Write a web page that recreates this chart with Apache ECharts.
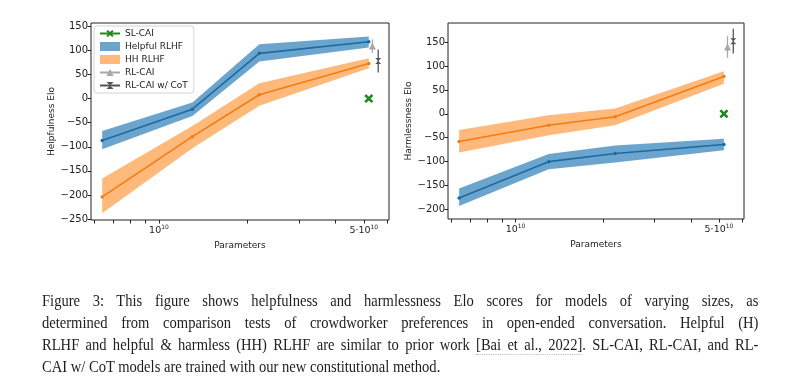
<!DOCTYPE html>
<html>
<head>
<meta charset="utf-8">
<script src="https://cdn.jsdelivr.net/npm/echarts@6/dist/echarts.min.js"></script>
<style>
html,body{margin:0;padding:0;background:#fff;width:800px;height:389px;overflow:hidden}
#chart{position:absolute;left:0;top:0;width:800px;height:389px}
#cap{position:absolute;left:42px;top:290px;width:796px;transform:scaleX(0.9);transform-origin:0 0;font-family:'Liberation Serif','DejaVu Serif',serif;font-size:16.2px;line-height:22px;color:#1e1e1e}
#cap .j{text-align:justify;text-align-last:justify}
#cap .l{text-align:left}
#cap .ref{border-bottom:1px dotted #bbb}
</style>
</head>
<body>
<div id="chart"></div>
<div id="cap">
<div class="j">Figure 3: This figure shows helpfulness and harmlessness Elo scores for models of varying sizes, as</div>
<div class="j">determined from comparison tests of crowdworker preferences in open-ended conversation. Helpful (H)</div>
<div class="j">RLHF and helpful &amp; harmless (HH) RLHF are similar to prior work <span class="ref">[Bai et al., 2022]</span>. SL-CAI, RL-CAI, and RL-</div>
<div class="l">CAI w/ CoT models are trained with our new constitutional method.</div>
</div>
<script>
// ---- data ----
const params = [6.4e9, 1.3e10, 2.2e10, 5.2e10];

// Helpfulness panel
const helpHelpfulRLHF   = [-87, -22, 94, 118];
const helpHelpfulRLHFLo = [-105, -36, 77, 106];
const helpHelpfulRLHFHi = [-67, -8, 113, 129];
const helpHHRLHF   = [-204, -79, 8, 73];
const helpHHRLHFLo = [-238, -103, -15, 63];
const helpHHRLHFHi = [-166, -57, 32, 84];

// Harmlessness panel
const harmHelpfulRLHF   = [-176, -100, -83, -64];
const harmHelpfulRLHFLo = [-193, -116, -102, -76];
const harmHelpfulRLHFHi = [-156, -84, -66, -52];
const harmHHRLHF   = [-58, -24, -6, 78];
const harmHHRLHFLo = [-81, -45, -24, 63];
const harmHHRLHFHi = [-34, -3, 11, 89];

// single-point models [helpfulness, harmlessness]
const slcaiX = 5.2e10;
const slcaiElo = [0, 0];
const rlcaiX = 5.35e10;
const rlcaiElo = [109, 140];
const rlcaiErr = [14, 23];
const cotX = 5.6e10;
const cotElo = [78, 152];
const cotErr = [24, 26];

// axis ticks
const xTickParams = [6e9, 7e9, 8e9, 9e9, 1e10, 2e10, 3e10, 4e10, 5e10, 6e10];
const xLabelParams = [1e10, 5e10];
const helpYTicks = [-250, -200, -150, -100, -50, 0, 50, 100, 150];
const harmYTicks = [-200, -150, -100, -50, 0, 50, 100, 150];

// ---- styling ----
const FONT = 'DejaVu Sans';
const blueLine = '#1b6aa3', blueBand = 'rgba(31,119,180,0.66)';
const orangeLine = '#f47c12', orangeBand = 'rgba(255,127,14,0.55)';
const green = '#1f8a1f', gray = '#a8a8a8', dark = '#555555';
const xPath = 'path://M2,0L5,3L8,0L10,2L7,5L10,8L8,10L5,7L2,10L0,8L3,5L0,2Z';
const hourPath = 'path://M0,0L10,0L5,5L10,10L0,10L5,5Z';

const lx = v => Math.log10(v);
const pts = (xs, ys) => xs.map((x, i) => [lx(x), ys[i]]);
const minus = v => String(v).replace('-', '\u2212');

function band(name, lo, hi, color, gi) {
  return {type:'custom', name:name, xAxisIndex:gi, yAxisIndex:gi,
    data: params.map((x, i) => [lx(x), lo[i], hi[i]]), encode:{x:0, y:[1, 2]},
    itemStyle:{color:color}, silent:true, z:1, animation:false,
    renderItem: function(p, api) {
      if (p.dataIndex !== 0) return null;
      const upper = params.map((x, i) => api.coord([lx(x), hi[i]]));
      const lower = params.map((x, i) => api.coord([lx(x), lo[i]])).reverse();
      return {type:'polygon', shape:{points: upper.concat(lower)}, style:{fill:color}};
    }};
}
function mainLine(name, vals, color, gi) {
  return {type:'line', name:name, xAxisIndex:gi, yAxisIndex:gi, data:pts(params, vals),
    symbol:'circle', symbolSize:3.5, lineStyle:{color:color, width:1.6}, itemStyle:{color:color}, z:3, animation:false};
}
function point(name, x, y, symbol, size, color, gi) {
  return {type:'line', name:name, xAxisIndex:gi, yAxisIndex:gi, data:[[lx(x), y]],
    symbol:symbol, symbolSize:size, itemStyle:{color:color}, lineStyle:{color:color, width:1.5}, z:6, animation:false};
}
function errBar(x, y, e, color, gi) {
  return {type:'custom', xAxisIndex:gi, yAxisIndex:gi, data:[[lx(x), y, e]], encode:{x:0, y:1}, z:5, silent:true, animation:false,
    renderItem: function(p, api) {
      const xv = api.value(0), yv = api.value(1), ev = api.value(2);
      const a = api.coord([xv, yv - ev]), b = api.coord([xv, yv + ev]);
      return {type:'line', shape:{x1:a[0], y1:a[1], x2:b[0], y2:b[1]}, style:{stroke:color, lineWidth:1.3}};
    }};
}

function xAxis(gi) {
  return {gridIndex:gi, type:'value', min:9.768, max:10.785,
    name:'Parameters', nameLocation:'middle', nameGap:18,
    nameTextStyle:{fontFamily:FONT, fontSize:9, color:'#222'},
    axisLine:{show:false, onZero:false}, splitLine:{show:false},
    axisTick:{show:true, length:3.5, customValues:xTickParams.map(lx), lineStyle:{color:'#222', width:1}},
    axisLabel:{show:true, customValues:xLabelParams.map(lx), margin:4, fontFamily:FONT, color:'#222',
      formatter: v => Math.abs(v - 10) < 1e-3 ? '{b|10}{s|10}' : '{b|5\u00b710}{s|10}',
      rich:{b:{fontFamily:FONT, fontSize:9.5, color:'#222', lineHeight:12, verticalAlign:'bottom'},
            s:{fontFamily:FONT, fontSize:6, color:'#222', lineHeight:12, verticalAlign:'top'}}}
  };
}
function yAxis(gi, name, min, max, ticks, gap) {
  return {gridIndex:gi, type:'value', min:min, max:max,
    name:name, nameLocation:'middle', nameGap:gap,
    nameTextStyle:{fontFamily:FONT, fontSize:9, color:'#222'},
    axisLine:{show:false, onZero:false}, splitLine:{show:false},
    axisTick:{show:true, length:3.5, customValues:ticks, lineStyle:{color:'#222', width:1}},
    axisLabel:{show:true, customValues:ticks, margin:3, fontFamily:FONT, fontSize:10, color:'#222', formatter:minus}
  };
}

const series = [
  band('HH RLHF', helpHHRLHFLo, helpHHRLHFHi, orangeBand, 0),
  band('Helpful RLHF', helpHelpfulRLHFLo, helpHelpfulRLHFHi, blueBand, 0),
  mainLine('HH RLHF line', helpHHRLHF, orangeLine, 0),
  mainLine('Helpful RLHF line', helpHelpfulRLHF, blueLine, 0),
  point('SL-CAI', slcaiX, slcaiElo[0], xPath, 9, green, 0),
  errBar(rlcaiX, rlcaiElo[0], rlcaiErr[0], gray, 0),
  point('RL-CAI', rlcaiX, rlcaiElo[0], 'triangle', 7, gray, 0),
  errBar(cotX, cotElo[0], cotErr[0], dark, 0),
  point('RL-CAI w/ CoT', cotX, cotElo[0], hourPath, 6, dark, 0),
  band('HH RLHF', harmHHRLHFLo, harmHHRLHFHi, orangeBand, 1),
  band('Helpful RLHF', harmHelpfulRLHFLo, harmHelpfulRLHFHi, blueBand, 1),
  mainLine('HH RLHF line', harmHHRLHF, orangeLine, 1),
  mainLine('Helpful RLHF line', harmHelpfulRLHF, blueLine, 1),
  point('SL-CAI', slcaiX, slcaiElo[1], xPath, 9, green, 1),
  errBar(rlcaiX, rlcaiElo[1], rlcaiErr[1], gray, 1),
  point('RL-CAI', rlcaiX, rlcaiElo[1], 'triangle', 7, gray, 1),
  errBar(cotX, cotElo[1], cotErr[1], dark, 1),
  point('RL-CAI w/ CoT', cotX, cotElo[1], hourPath, 6, dark, 1)
];

const chart = echarts.init(document.getElementById('chart'), null, {renderer:'canvas'});
chart.setOption({
  animation:false,
  backgroundColor:'transparent',
  grid:[
    {left:91, top:23, width:298, height:197, show:true, borderColor:'#222', borderWidth:1, containLabel:false, outerBoundsMode:'none'},
    {left:448, top:23, width:296, height:196, show:true, borderColor:'#222', borderWidth:1, containLabel:false, outerBoundsMode:'none'}
  ],
  xAxis:[xAxis(0), xAxis(1)],
  yAxis:[
    yAxis(0, 'Helpfulness Elo', -252, 157, helpYTicks, 29),
    yAxis(1, 'Harmlessness Elo', -220, 190, harmYTicks, 31)
  ],
  legend:{
    orient:'vertical', left:94, top:26, itemWidth:20, itemHeight:9, itemGap:4,
    padding:[3,6,3,5], backgroundColor:'#fff', borderColor:'#d4d4d4', borderWidth:1, borderRadius:3,
    textStyle:{fontFamily:FONT, fontSize:9, color:'#222'},
    selectedMode:false,
    data:[
      {name:'SL-CAI'},
      {name:'Helpful RLHF', icon:'rect', itemStyle:{color:blueBand}},
      {name:'HH RLHF', icon:'rect', itemStyle:{color:orangeBand}},
      {name:'RL-CAI'},
      {name:'RL-CAI w/ CoT'}
    ]
  },
  series:series
});
</script>
</body>
</html>
